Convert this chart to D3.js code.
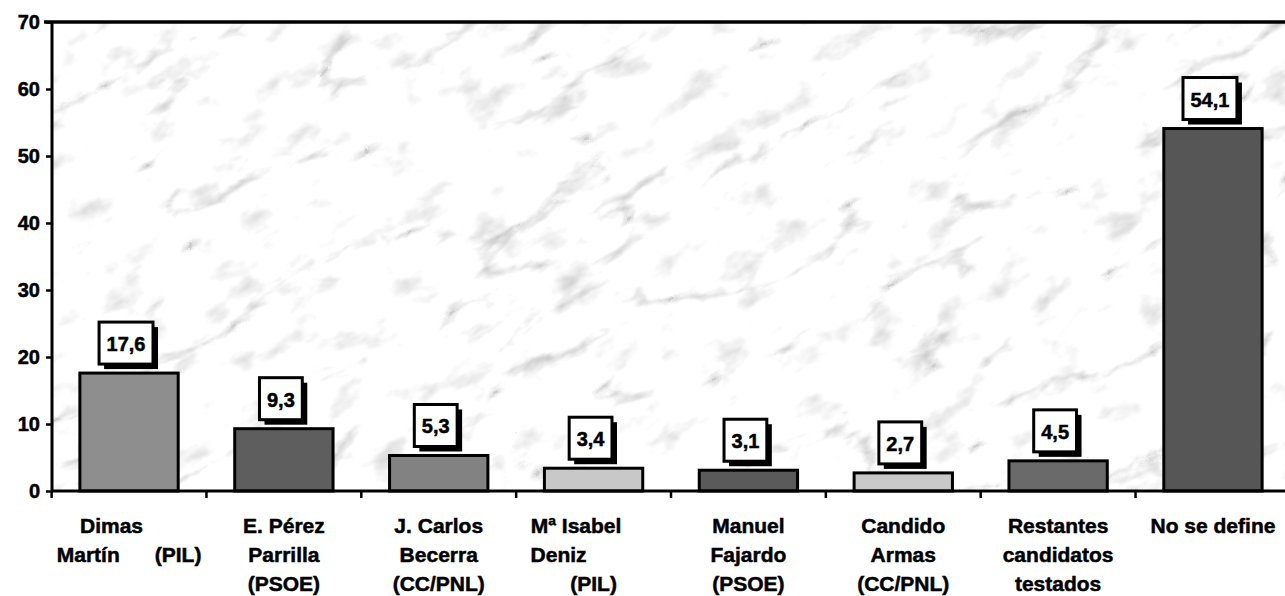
<!DOCTYPE html>
<html>
<head>
<meta charset="utf-8">
<script src="https://cdn.jsdelivr.net/npm/d3@7"></script>
<style>
  body { margin: 0; background: #fff; }
  svg { display: block; font-family: "Liberation Sans", Arial, sans-serif; font-weight: bold; }
  svg text { stroke: #000; stroke-width: 0.5px; }
</style>
</head>
<body>
<div id="chart"></div>
<script>
// Data
const categories = ['dimas', 'perez', 'becerra', 'deniz', 'fajardo', 'armas', 'restantes', 'nodefine']
const labelLines = [
    ['Dimas      ', 'Martín      (PIL)'],
    ['E. Pérez', 'Parrilla', '(PSOE)'],
    ['J. Carlos', 'Becerra', '(CC/PNL)'],
    ['Mª Isabel      ', 'Deniz            ', '(PIL)'],
    ['Manuel', 'Fajardo', '(PSOE)'],
    ['Candido', 'Armas', '(CC/PNL)'],
    ['Restantes', 'candidatos', 'testados'],
    ['No se define']
]
const values = [17.6, 9.3, 5.3, 3.4, 3.1, 2.7, 4.5, 54.1]
const valueLabels = ['17,6', '9,3', '5,3', '3,4', '3,1', '2,7', '4,5', '54,1']
const barColors = ['#8e8e8e', '#5e5e5e', '#828282', '#c8c8c8', '#5a5a5a', '#c9c9c9', '#6a6a6a', '#565656']
const yTicks = [0, 10, 20, 30, 40, 50, 60, 70]

function draw(){
    //Dimensions
    const width = 1285, height = 596
    const margin = {top: 22, bottom: 105, left: 52, right: -5}
    const ctrWidth = width - margin.left - margin.right
    const ctrHeight = height - margin.top - margin.bottom

    // Scales
    const xScale = d3.scaleBand()
        .domain(categories)
        .range([0, ctrWidth])
        .paddingInner(0.365)
        .paddingOuter(0.18)

    const yScale = d3.scaleLinear()
        .domain([0, 70])
        .range([ctrHeight, 0])

    const svg = d3.select('#chart')
        .append('svg')
        .attr('width', width)
        .attr('height', height)

    // marble background
    const defs = svg.append('defs')
    const filter = defs.append('filter')
        .attr('id', 'marble')
        .attr('x', 0).attr('y', 0).attr('width', 1).attr('height', 1)
        .attr('color-interpolation-filters', 'sRGB')
    filter.append('feTurbulence')
        .attr('type', 'turbulence')
        .attr('baseFrequency', '0.005 0.011')
        .attr('numOctaves', 5)
        .attr('seed', 11)
        .attr('result', 'veinNoise')
    filter.append('feColorMatrix')
        .attr('in', 'veinNoise')
        .attr('type', 'matrix')
        .attr('values', '1.3 0 0 0 0.8  1.3 0 0 0 0.8  1.3 0 0 0 0.8  0 0 0 0 1')
        .attr('result', 'veins')
    filter.append('feTurbulence')
        .attr('type', 'fractalNoise')
        .attr('baseFrequency', '0.02 0.035')
        .attr('numOctaves', 4)
        .attr('seed', 4)
        .attr('result', 'mottleNoise')
    filter.append('feColorMatrix')
        .attr('in', 'mottleNoise')
        .attr('type', 'matrix')
        .attr('values', '0.5 0 0 0 0.8  0.5 0 0 0 0.8  0.5 0 0 0 0.8  0 0 0 0 1')
        .attr('result', 'mottle')
    filter.append('feComposite')
        .attr('in', 'veins')
        .attr('in2', 'mottle')
        .attr('operator', 'arithmetic')
        .attr('k1', 1).attr('k2', 0).attr('k3', 0).attr('k4', 0)

    defs.append('clipPath').attr('id', 'plotClip')
        .append('rect')
        .attr('width', ctrWidth)
        .attr('height', ctrHeight)

    const ctr = svg.append('g')
        .attr('transform', `translate(${margin.left}, ${margin.top})`)

    ctr.append('g')
        .attr('clip-path', 'url(#plotClip)')
        .append('g')
        .attr('transform', `rotate(-28 ${ctrWidth / 2} ${ctrHeight / 2})`)
        .append('rect')
        .attr('x', -300)
        .attr('y', -600)
        .attr('width', ctrWidth + 600)
        .attr('height', ctrHeight + 1200)
        .attr('filter', 'url(#marble)')

    // Bars
    ctr.selectAll('.bar')
        .data(values)
        .join('rect')
        .attr('class', 'bar')
        .attr('x', (d, i) => xScale(categories[i]))
        .attr('y', d => yScale(d))
        .attr('width', xScale.bandwidth())
        .attr('height', d => yScale(0) - yScale(d))
        .attr('fill', (d, i) => barColors[i])
        .attr('stroke', '#000')
        .attr('stroke-width', 3)

    // Value boxes
    const boxes = ctr.selectAll('.vbox')
        .data(values)
        .join('g')
        .attr('class', 'vbox')
        .attr('transform', (d, i) =>
            `translate(${xScale(categories[i]) + xScale.bandwidth() / 2 - 3}, ${yScale(d) - 9})`)

    boxes.each(function(d, i){
        const g = d3.select(this)
        const t = g.append('text')
            .text(valueLabels[i])
            .attr('font-size', 20)
            .attr('text-anchor', 'middle')
            .attr('y', -13)
        const w = t.node().getComputedTextLength() + 15
        const h = 42
        g.insert('rect', 'text')
            .attr('x', -w / 2 + 5)
            .attr('y', -h + 5)
            .attr('width', w)
            .attr('height', h)
            .attr('fill', '#000')
        g.insert('rect', 'text')
            .attr('x', -w / 2)
            .attr('y', -h)
            .attr('width', w)
            .attr('height', h)
            .attr('fill', '#fff')
            .attr('stroke', '#000')
            .attr('stroke-width', 3)
    })

    // Axes
    const yAxis = d3.axisLeft(yScale)
        .tickValues(yTicks)
        .tickSize(6)
        .tickPadding(6)

    const yAxisGroup = ctr.append('g').call(yAxis)
    yAxisGroup.select('.domain').remove()
    yAxisGroup.selectAll('line').attr('stroke-width', 2.5)
    yAxisGroup.selectAll('text')
        .attr('font-size', 20)
        .attr('font-weight', 'bold')
        .attr('font-family', '"Liberation Sans", Arial, sans-serif')
        .attr('fill', '#000')

    const edges = categories.map(c => xScale(c) - xScale.step() * xScale.paddingInner() / 2)
    const xLines = ctr.append('g')
    xLines.selectAll('.xtick')
        .data(edges)
        .join('line')
        .attr('x1', d => d).attr('x2', d => d)
        .attr('y1', ctrHeight).attr('y2', ctrHeight + 7)
        .attr('stroke', '#000')
        .attr('stroke-width', 2.5)

    // axis lines
    ctr.append('line')
        .attr('x1', 0).attr('x2', ctrWidth)
        .attr('y1', ctrHeight).attr('y2', ctrHeight)
        .attr('stroke', '#000').attr('stroke-width', 3)
    ctr.append('line')
        .attr('x1', 0).attr('x2', 0)
        .attr('y1', 0).attr('y2', ctrHeight)
        .attr('stroke', '#000').attr('stroke-width', 3)
    ctr.append('line')
        .attr('x1', -8).attr('x2', ctrWidth)
        .attr('y1', 0).attr('y2', 0)
        .attr('stroke', '#000').attr('stroke-width', 3.5)

    // category labels
    const labels = ctr.selectAll('.xlabel')
        .data(labelLines)
        .join('text')
        .attr('class', 'xlabel')
        .attr('text-anchor', 'middle')
        .attr('font-size', 21)
        .style('white-space', 'pre')
        .attr('transform', (d, i) =>
            `translate(${xScale(categories[i]) + xScale.bandwidth() / 2}, ${ctrHeight + 42})`)

    labels.selectAll('tspan')
        .data(d => d)
        .join('tspan')
        .attr('x', 0)
        .attr('y', (d, j) => j * 29)
        .text(d => d)
}
draw()
</script>
</body>
</html>
